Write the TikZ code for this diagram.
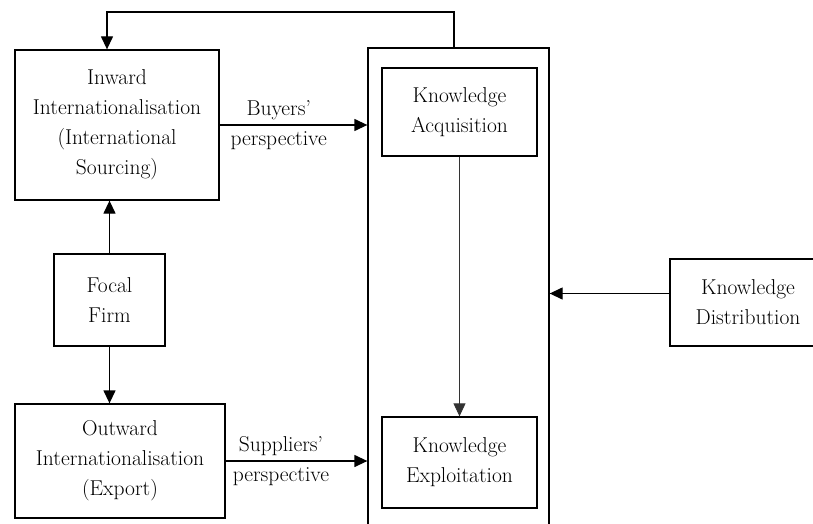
\documentclass[tikz,border=0pt]{standalone}
\usepackage{amsmath,amssymb}
\usepackage{tikz}
\usetikzlibrary{shapes,arrows.meta,positioning,calc}

\begin{document}
\begin{tikzpicture}[x=1pt,y=-1pt,>={Triangle[length=13pt,width=12pt]},
	box/.style={draw,line width=1.3pt,align=center,inner sep=0pt,font=\fontsize{21.5}{30}\selectfont},
	conn/.style={->,line width=1.3pt},
	lbl/.style={align=center,font=\fontsize{21.5}{30}\selectfont}]
						\useasboundingbox (0,0) rectangle (813,524);
						% left column
						\node[box,minimum width=204pt,minimum height=150pt] (inward) at (117,125) {Inward\\Internationalisation\\(International\\Sourcing)};
						\node[box,minimum width=111pt,minimum height=92pt] (focal) at (109.5,300) {Focal\\Firm};
						\node[box,minimum width=210pt,minimum height=114pt] (outward) at (120,461) {Outward\\Internationalisation\\(Export)};
						% knowledge container
						\node[box,minimum width=181pt,minimum height=504pt] (container) at (458.5,300) {};
						\node[box,minimum width=155pt,minimum height=88pt] (acq) at (459.5,112) {Knowledge\\Acquisition};
						\node[box,minimum width=155pt,minimum height=91pt] (exp) at (459.5,462.5) {Knowledge\\Exploitation};
						\node[box,minimum width=156pt,minimum height=87pt] (dist) at (748,302.5) {Knowledge\\Distribution};
						% connectors
						\draw[conn] (focal.north) -- (focal.north |- inward.south);
						\draw[conn] (focal.south) -- (focal.south |- outward.north);
						\draw[conn] (inward.east) -- (inward.east -| container.west)
							node[lbl,pos=0.4] {Buyers'\\perspective};
						\draw[conn] (outward.east) -- (outward.east -| container.west)
							node[lbl,pos=0.39] {Suppliers'\\perspective};
						\draw[->,line width=0.8pt,black!80] (acq.south) -- (exp.north);
						\draw[conn] ([yshift=9pt]dist.west) -- ([yshift=9pt]dist.west -| container.east);
						\coordinate (fbtop) at (454,12);
						\draw[conn] (container.north -| fbtop) -- (fbtop) -| ([xshift=-10pt]inward.north);
					\end{tikzpicture}
\end{document}
